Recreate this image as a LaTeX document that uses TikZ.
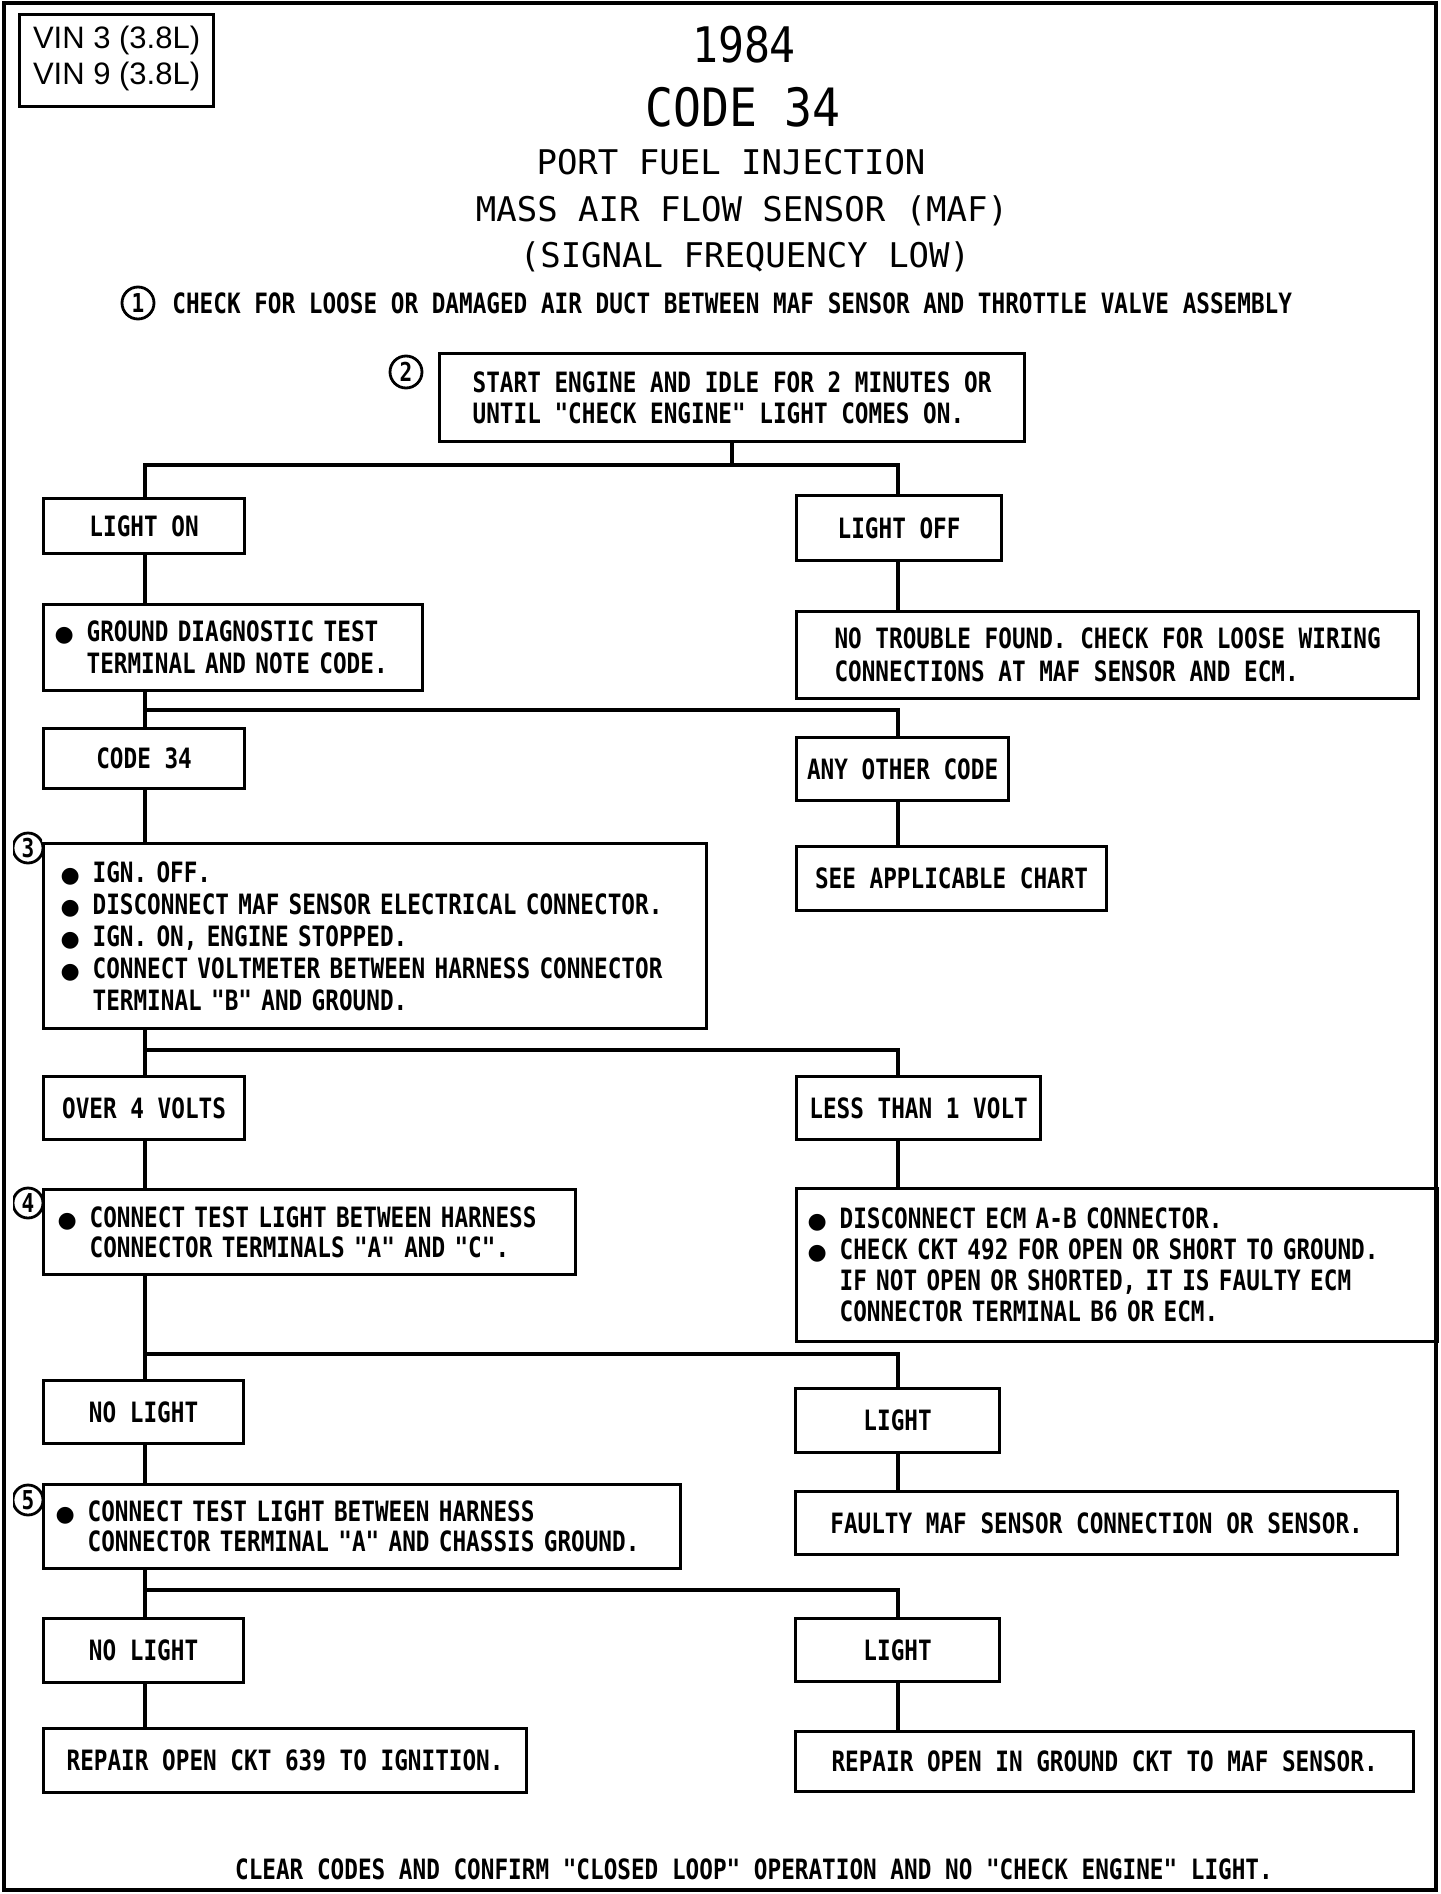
\documentclass[tikz,border=0pt]{standalone}
\usepackage{fontspec}
\newfontfamily\chartfont{DejaVu Sans Mono}[FakeStretch=0.81]
\newfontfamily\headfont{DejaVu Sans Mono}
\newfontfamily\bigfont{DejaVu Sans Mono}[FakeStretch=0.88]
\newfontfamily\vinfont{Liberation Sans}
\newfontfamily\bltfont{DejaVu Sans}
\newcommand\blt{\makebox[16pt][l]{\bltfont\fontsize{11pt}{11pt}\selectfont ●}}
\newcommand\hangsp{\hspace*{16pt}}
\usetikzlibrary{positioning}

\begin{document}
\begin{tikzpicture}[
        x=0.5pt, y=-0.5pt,
        link/.style={line width=1.8pt},
        tagbox/.style={draw, line width=1.6pt, rectangle, anchor=north west, inner sep=0pt, align=center, font=\chartfont\bfseries\fontsize{14pt}{16pt}\selectfont},
        stepbox/.style={tagbox, align=left, inner xsep=6pt},
        linegap/.style={font=\chartfont\bfseries\fontsize{14pt}{#1}\selectfont},
        stepnum/.style={circle, draw, line width=1.4pt, inner sep=0pt, minimum size=15pt, font=\chartfont\bfseries\fontsize{13pt}{13pt}\selectfont},
        caption/.style={anchor=base, inner sep=0pt},
        title/.style={caption, font=\headfont\fontsize{17pt}{17pt}\selectfont}
      ]
        \useasboundingbox (0,0) rectangle (1440,1894);
        \draw[line width=2pt] (4,3) rectangle (1436,1890);

        % heading
        \node (vin) [draw, line width=1.6pt, anchor=north west, minimum width=97pt, minimum height=46pt, align=left, inner sep=0pt, font=\vinfont\fontsize{15.5pt}{18pt}\selectfont] at (18,13) {VIN 3 (3.8L)\\VIN 9 (3.8L)\\[-12.5pt]};
        \node (year) [caption, font=\bigfont\fontsize{24.5pt}{24.5pt}\selectfont] at (744,63) {1984};
        \node (code) [caption, font=\bigfont\fontsize{26.4pt}{26.4pt}\selectfont] at (743,127) {CODE 34};
        \node (system) [title] at (731,175) {PORT FUEL INJECTION};
        \node (sensor) [title] at (742,222) {MASS AIR FLOW SENSOR (MAF)};
        \node (signal) [title] at (745,268) {(SIGNAL FREQUENCY LOW)};

        \node (n1) [stepnum, minimum size=16pt] at (138,303) {1};
        \node (step1) [caption, anchor=base west, linegap=16pt] at (172,313) {CHECK FOR LOOSE OR DAMAGED AIR DUCT BETWEEN MAF SENSOR AND THROTTLE VALVE ASSEMBLY};

        \node (n2) [stepnum, minimum size=16pt] at (406,372) {2};
        \node (step2) [tagbox, align=left, minimum width=292.5pt, minimum height=44pt, linegap=15.5pt] at (438,352) {START ENGINE AND IDLE FOR 2 MINUTES OR\\UNTIL "CHECK ENGINE" LIGHT COMES ON.};

        % left column
        \node (lighton) [tagbox, minimum width=100.5pt, minimum height=27.5pt] at (42,497) {LIGHT ON};
        \node (ground) [stepbox, inner xsep=5.5pt, text width=178.5pt, minimum height=43pt, linegap=16pt] at (42,603) {\blt GROUND DIAGNOSTIC TEST\\\hangsp TERMINAL AND NOTE CODE.};
        \node (code34) [tagbox, minimum width=100.5pt, minimum height=30pt] at (42,727) {CODE 34};
        \node (step3) [stepbox, inner xsep=8.5pt, text width=314.5pt, minimum height=92.5pt, linegap=16pt] at (42,842) {\blt IGN. OFF.\\\blt DISCONNECT MAF SENSOR ELECTRICAL CONNECTOR.\\\blt IGN. ON, ENGINE STOPPED.\\\blt CONNECT VOLTMETER BETWEEN HARNESS CONNECTOR\\\hangsp TERMINAL "B" AND GROUND.\\[-4pt]};
        \node (over4) [tagbox, minimum width=100.5pt, minimum height=31.5pt] at (42,1075) {OVER 4 VOLTS};
        \node (step4) [stepbox, inner xsep=7pt, text width=252pt, minimum height=42.5pt, linegap=15pt] at (42,1188) {\blt CONNECT TEST LIGHT BETWEEN HARNESS\\\hangsp CONNECTOR TERMINALS "A" AND "C".};
        \node (nolight1) [tagbox, minimum width=100pt, minimum height=31.5pt] at (42,1379) {NO LIGHT};
        \node (step5) [stepbox, inner xsep=6pt, text width=306.5pt, minimum height=42pt, linegap=15pt] at (42,1483) {\blt CONNECT TEST LIGHT BETWEEN HARNESS\\\hangsp CONNECTOR TERMINAL "A" AND CHASSIS GROUND.};
        \node (nolight2) [tagbox, minimum width=100pt, minimum height=32pt] at (42,1617) {NO LIGHT};
        \node (repair1) [tagbox, minimum width=241.5pt, minimum height=32pt] at (42,1727) {REPAIR OPEN CKT 639 TO IGNITION.};

        % right column
        \node (lightoff) [tagbox, minimum width=102.5pt, minimum height=32.5pt] at (795,494) {LIGHT OFF};
        \node (notrouble) [tagbox, align=left, minimum width=311pt, minimum height=43.5pt, linegap=16.5pt] at (795,610) {NO TROUBLE FOUND. CHECK FOR LOOSE WIRING\\CONNECTIONS AT MAF SENSOR AND ECM.};
        \node (anyother) [tagbox, minimum width=106pt, minimum height=31.5pt] at (795,736) {ANY OTHER CODE};
        \node (seechart) [tagbox, minimum width=155pt, minimum height=32pt] at (795,845) {SEE APPLICABLE CHART};
        \node (lessthan) [tagbox, minimum width=122pt, minimum height=31.5pt] at (795,1075) {LESS THAN 1 VOLT};
        \node (ecm) [stepbox, inner xsep=5.5pt, text width=309.5pt, minimum height=76.5pt, linegap=15.5pt] at (795,1187) {\blt DISCONNECT ECM A-B CONNECTOR.\\\blt CHECK CKT 492 FOR OPEN OR SHORT TO GROUND.\\\hangsp IF NOT OPEN OR SHORTED, IT IS FAULTY ECM\\\hangsp CONNECTOR TERMINAL B6 OR ECM.};
        \node (light1) [tagbox, minimum width=102pt, minimum height=32pt] at (794,1387) {LIGHT};
        \node (faulty) [tagbox, minimum width=301pt, minimum height=31.5pt] at (794,1490) {FAULTY MAF SENSOR CONNECTION OR SENSOR.};
        \node (light2) [tagbox, minimum width=102pt, minimum height=31.5pt] at (794,1617) {LIGHT};
        \node (repair2) [tagbox, minimum width=309pt, minimum height=30pt] at (794,1730) {REPAIR OPEN IN GROUND CKT TO MAF SENSOR.};

        % step numbers cut at the left edge
        \begin{scope}
          \clip (13,820) rectangle (42,1530);
          \node (n3) [stepnum] at (28,848) {3};
          \node (n4) [stepnum] at (28,1203) {4};
          \node (n5) [stepnum] at (28,1500) {5};
        \end{scope}

        \node (clear) [caption, linegap=16pt] at (754,1879) {CLEAR CODES AND CONFIRM "CLOSED LOOP" OPERATION AND NO "CHECK ENGINE" LIGHT.};

        % connectors
        \coordinate (ls) at (145,0);
        \coordinate (rs) at (898,0);
        \coordinate (j1) at (730.5,465);
        \coordinate (j2) at (145,710);
        \coordinate (j3) at (145,1050);
        \coordinate (j4) at (145,1354);
        \coordinate (j5) at (145,1590);

        \draw[link] (step2.south) -- (step2.south |- j1);
        \draw[link] (ls |- lighton.north) |- (j1) -| (rs |- lightoff.north);
        \draw[link] (ls |- lighton.south) -- (ls |- ground.north);
        \draw[link] (rs |- lightoff.south) -- (rs |- notrouble.north);

        \draw[link] (ls |- ground.south) -- (ls |- code34.north);
        \draw[link] (j2) -| (rs |- anyother.north);
        \draw[link] (rs |- anyother.south) -- (rs |- seechart.north);
        \draw[link] (ls |- code34.south) -- (ls |- step3.north);

        \draw[link] (ls |- step3.south) -- (ls |- over4.north);
        \draw[link] (j3) -| (rs |- lessthan.north);
        \draw[link] (ls |- over4.south) -- (ls |- step4.north);
        \draw[link] (rs |- lessthan.south) -- (rs |- ecm.north);

        \draw[link] (ls |- step4.south) -- (ls |- nolight1.north);
        \draw[link] (j4) -| (rs |- light1.north);
        \draw[link] (ls |- nolight1.south) -- (ls |- step5.north);
        \draw[link] (rs |- light1.south) -- (rs |- faulty.north);

        \draw[link] (ls |- step5.south) -- (ls |- nolight2.north);
        \draw[link] (j5) -| (rs |- light2.north);
        \draw[link] (ls |- nolight2.south) -- (ls |- repair1.north);
        \draw[link] (rs |- light2.south) -- (rs |- repair2.north);
      \end{tikzpicture}
\end{document}
